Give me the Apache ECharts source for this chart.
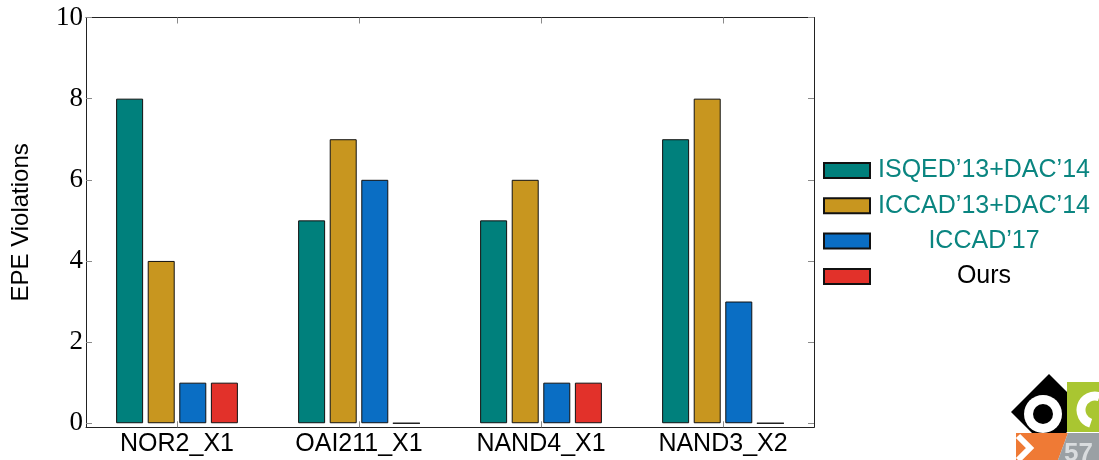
<!DOCTYPE html>
<html>
<head>
<meta charset="utf-8">
<script src="https://cdn.jsdelivr.net/npm/echarts@6/dist/echarts.min.js"></script>
<style>html,body{margin:0;padding:0;background:#fff;}#c{width:1099px;height:460px;}</style>
</head>
<body>
<div id="c"></div>
<script>
const categories = ['NOR2_X1', 'OAI211_X1', 'NAND4_X1', 'NAND3_X2'];
const seriesNames = ['ISQED’13+DAC’14', 'ICCAD’13+DAC’14', 'ICCAD’17', 'Ours'];
const isqedDac = [8, 5, 5, 7];
const iccad13Dac = [4, 7, 6, 8];
const iccad17 = [1, 6, 1, 3];
const ours = [1, 0, 1, 0];
const yTicks = [0, 2, 4, 6, 8, 10];

const colors = ['#00807c', '#c8961f', '#0a6ec4', '#e2312a'];
const legendTextColors = ['#0a8580', '#0a8580', '#0a8580', '#000000'];
const values = [isqedDac, iccad13Dac, iccad17, ours];

const chart = echarts.init(document.getElementById('c'));
const sans = 'Liberation Sans';
const serif = 'Liberation Serif';

const tickStyle = { show: true, inside: true, length: 6, lineStyle: { color: '#8a8a8a', width: 1 } };
const frameLine = { show: true, onZero: false, lineStyle: { color: '#222', width: 1 } };

chart.setOption({
  animation: false,
  grid: { left: 86, right: 285, top: 17.5, bottom: 32.7, containLabel: false },
  xAxis: [
    {
      type: 'category', data: categories, position: 'bottom',
      axisLine: frameLine,
      axisTick: Object.assign({ alignWithLabel: true }, tickStyle),
      axisLabel: { fontFamily: sans, fontSize: 25, color: '#000', margin: 4 },
      splitLine: { show: false }
    },
    {
      type: 'category', data: categories, position: 'top',
      axisLine: frameLine,
      axisTick: Object.assign({ alignWithLabel: true }, tickStyle),
      axisLabel: { show: false },
      splitLine: { show: false }
    }
  ],
  yAxis: [
    {
      type: 'value', min: -0.1, max: 10, position: 'left',
      name: 'EPE Violations', nameLocation: 'middle', nameGap: 53,
      nameTextStyle: { fontFamily: sans, fontSize: 24, color: '#000' },
      axisLine: frameLine,
      axisTick: Object.assign({ customValues: yTicks }, tickStyle),
      axisLabel: { customValues: yTicks, fontFamily: serif, fontSize: 27, color: '#000', margin: 3 },
      splitLine: { show: false }
    },
    {
      type: 'value', min: -0.1, max: 10, position: 'right',
      axisLine: frameLine,
      axisTick: Object.assign({ customValues: yTicks }, tickStyle),
      axisLabel: { show: false, customValues: yTicks },
      splitLine: { show: false }
    }
  ],
  legend: {
    orient: 'vertical', left: 823, top: 158, padding: 0,
    icon: 'rect',
    itemWidth: 46, itemHeight: 15, itemGap: 10.3,
    data: seriesNames.map((n, i) => ({ name: n, textStyle: { color: legendTextColors[i] } })),
    formatter: name => '{t|' + name + '}',
    textStyle: {
      fontFamily: sans, fontSize: 25,
      rich: { t: { width: 218, align: 'center', fontFamily: sans, fontSize: 25, lineHeight: 24 } }
    }
  },
  series: seriesNames.map((n, i) => ({
    name: n, type: 'bar', data: values[i],
    xAxisIndex: 0, yAxisIndex: 0,
    barWidth: 27, barGap: '17%',
    itemStyle: { color: colors[i], borderColor: '#111', borderWidth: 1 }
  })),
  graphic: [
    { type: 'polygon', shape: { points: [[1011, 412], [1049, 374], [1087, 412], [1049, 450]] }, style: { fill: '#000' } },
    { type: 'circle', shape: { cx: 1043, cy: 414, r: 19 }, style: { fill: '#fff' } },
    { type: 'circle', shape: { cx: 1043, cy: 414, r: 10 }, style: { fill: '#000' } },
    { type: 'rect', shape: { x: 1067, y: 382, width: 32, height: 50 }, style: { fill: '#a9c631' } },
    { type: 'arc', shape: { cx: 1095, cy: 410, r: 14, startAngle: Math.PI * 0.6, endAngle: Math.PI * 1.6 }, style: { stroke: '#fff', lineWidth: 9, fill: 'none' } },
    { type: 'polygon', shape: { points: [[1016, 433], [1068, 433], [1058, 460], [1016, 460]] }, style: { fill: '#ef7a35' } },
    { type: 'polyline', shape: { points: [[1018, 436], [1030, 448], [1018, 460]] }, style: { stroke: '#fff', lineWidth: 6, fill: 'none' } },
    { type: 'polygon', shape: { points: [[1068, 433], [1099, 433], [1099, 460], [1058, 460]] }, style: { fill: '#9aa0a4' } },
    { type: 'text', x: 1064, y: 441, style: { text: '57', fontFamily: sans, fontWeight: 'bold', fontSize: 26, fill: '#d9dcde' } }
  ]
});
</script>
</body>
</html>
